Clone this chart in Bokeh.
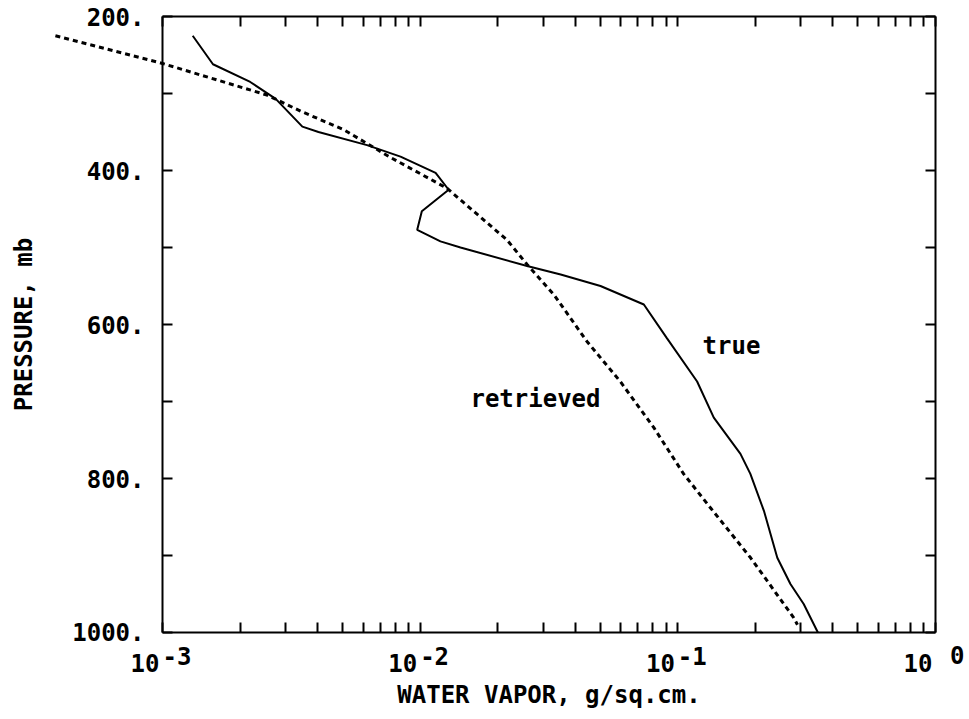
from bokeh.plotting import figure
from bokeh.models import Range1d, FixedTicker, LogAxis, LinearAxis, Label
from bokeh.embed import file_html
from bokeh.resources import INLINE

# ---- data ----
true_x = [1.31e-3, 1.57e-3, 2.19e-3, 2.75e-3, 3.49e-3, 4.03e-3, 6.22e-3, 8.39e-3,
          1.148e-2, 1.29e-2, 1.015e-2, 9.74e-3, 1.199e-2, 1.434e-2, 2.60e-2, 3.51e-2,
          5.01e-2, 7.38e-2, 9.08e-2, 0.1188, 0.1379, 0.175, 0.1912, 0.2158,
          0.2432, 0.2735, 0.3079, 0.3496]
true_p = [225, 262, 285, 307, 343, 350, 367, 382, 403, 425, 453, 477, 492, 500,
          524, 535, 550, 574, 618, 674, 721, 768, 794, 842, 903, 937, 963, 1000]

retrieved_x = [3.84e-4, 1.0e-3, 2.545e-3, 3.44e-3, 5.05e-3, 7.67e-3, 1.27e-2, 2.17e-2,
               2.60e-2, 3.30e-2, 4.44e-2, 5.98e-2, 8.07e-2, 0.1053, 0.1338, 0.1916,
               0.2818, 0.2912]
retrieved_p = [225, 261, 302, 323, 347, 383, 423, 490, 522, 561, 622, 674, 734,
               794, 838, 903, 981, 990]

x_major = [1e-3, 1e-2, 1e-1, 1.0]
x_base_labels = ["10", "10", "10", "10"]
x_exp_labels = ["-3", "-2", "-1", "\u00a00"]
x_minor = [m * d for d in (1e-3, 1e-2, 1e-1) for m in range(2, 10)]
y_ticks = [200, 300, 400, 500, 600, 700, 800, 900, 1000]
y_labels = ["200.", "", "400.", "", "600.", "", "800.", "", "1000."]

series_names = ["true", "retrieved"]
name_x = [0.1247, 0.01567]
name_p = [628, 697]

FONT = "DejaVu Sans Mono"
FS = "24px"

# the plotting area covers the whole canvas; the boxed axes sit at fixed
# locations inside it so that tick labels and the retrieved curve's left end
# (which runs outside the box) stay visible
x_lo, x_hi = x_major[0], x_major[-1]
p_top, p_bot = y_ticks[0], y_ticks[-1]
p = figure(width=965, height=715, x_axis_type="log",
           x_range=Range1d(10 ** -3.6287, 10 ** 0.1164),
           y_range=Range1d(1107.8, 179.2),
           output_backend="svg", toolbar_location=None,
           min_border_left=0, min_border_right=0, min_border_top=0,
           min_border_bottom=0)
p.grid.visible = False
p.outline_line_color = None
p.background_fill_color = "white"
p.border_fill_color = "white"


def style(ax):
    ax.axis_line_color = "black"
    ax.axis_line_width = 2
    ax.major_tick_line_width = 2
    ax.minor_tick_line_width = 2
    ax.major_tick_in = 10
    ax.major_tick_out = 0
    ax.minor_tick_in = 10
    ax.minor_tick_out = 0
    ax.major_label_text_font = FONT
    ax.major_label_text_font_size = FS
    ax.major_label_text_font_style = "bold"
    ax.major_label_text_color = "black"
    ax.axis_label_text_font = FONT
    ax.axis_label_text_font_size = FS
    ax.axis_label_text_font_style = "bold"
    ax.axis_label_text_color = "black"


xa = p.xaxis[0]
xa.ticker = FixedTicker(ticks=x_major, minor_ticks=x_minor)
style(xa)
xa.fixed_location = p_bot
xa.bounds = (x_lo, x_hi)
xa.major_label_overrides = {v: "" for v in x_major}
xa.major_label_standoff = 12
xa.axis_label = "WATER VAPOR, g/sq.cm."
xa.axis_label_standoff = 48

ya = p.yaxis[0]
ya.ticker = FixedTicker(ticks=y_ticks, minor_ticks=[])
style(ya)
ya.fixed_location = x_lo
ya.bounds = (p_top, p_bot)
ya.major_label_overrides = {v: s for v, s in zip(y_ticks, y_labels)}
ya.major_label_standoff = 18
ya.major_label_orientation = "horizontal"
ya.axis_label = "PRESSURE, mb"
ya.axis_label_standoff = 31

top = LogAxis(ticker=FixedTicker(ticks=x_major, minor_ticks=x_minor))
style(top)
top.fixed_location = p_top
top.bounds = (x_lo, x_hi)
top.major_label_overrides = {v: "" for v in x_major}
top.major_label_standoff = 0
top.major_label_text_font_size = "1px"
p.add_layout(top, "above")

right = LinearAxis(ticker=FixedTicker(ticks=y_ticks, minor_ticks=[]))
style(right)
right.fixed_location = x_hi
right.bounds = (p_top, p_bot)
right.major_label_overrides = {v: "" for v in y_ticks}
right.major_label_standoff = 0
right.major_label_text_font_size = "1px"
p.add_layout(right, "right")

# decade tick labels: base "10" left of the tick, exponent raised after it
for xv, base, ex in zip(x_major, x_base_labels, x_exp_labels):
    p.add_layout(Label(x=xv, y=p_bot, text=base, x_offset=-3, y_offset=-31,
                       text_font=FONT, text_font_size=FS, text_font_style="bold",
                       text_align="right", text_baseline="middle",
                       text_color="black"))
    p.add_layout(Label(x=xv, y=p_bot, text=ex, x_offset=0, y_offset=-24,
                       text_font=FONT, text_font_size=FS, text_font_style="bold",
                       text_align="left", text_baseline="middle",
                       text_color="black"))

p.line(true_x, true_p, line_color="black", line_width=2)
p.line(retrieved_x, retrieved_p, line_color="black", line_width=3,
       line_dash="5 4")

for name, lx, lp in zip(series_names, name_x, name_p):
    p.add_layout(Label(x=lx, y=lp, text=name, text_font=FONT,
                       text_font_size=FS, text_font_style="bold",
                       text_baseline="middle", text_align="left",
                       text_color="black"))

open("out.html", "w").write(file_html(p, INLINE))
